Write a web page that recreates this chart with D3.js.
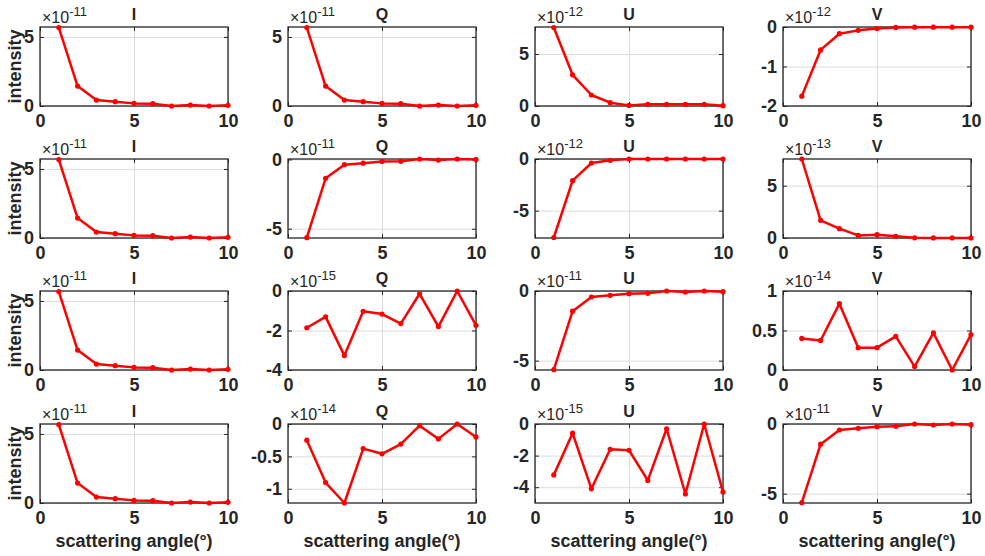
<!DOCTYPE html>
<html lang="en">
<head>
<meta charset="UTF-8">
<script src="https://cdn.jsdelivr.net/npm/d3@7"></script>
<title>Stokes parameters</title>
<style>
  body { margin: 0; background: #fff; }
  svg text { font-family: "Liberation Sans", Arial, sans-serif; font-weight: bold; fill: #262626; }
  .grid line { stroke: #dcdcdc; stroke-width: 1; }
  .grid path { display: none; }
  .ax path { display: none; }
  .ax line { stroke: #262626; }
</style>
</head>
<body>
<div id="chart"></div>
<script>
// scattering angle, degrees
var angles = [1, 2, 3, 4, 5, 6, 7, 8, 9, 10];

// values are mantissas, multiply by 10^exponent
var I1 = [5.68, 1.44, 0.43, 0.31, 0.19, 0.17, 0.0, 0.07, 0.0, 0.05];
var Q1 = [5.68, 1.44, 0.43, 0.31, 0.19, 0.17, 0.0, 0.07, 0.0, 0.05];
var U1 = [7.55, 3.0, 1.06, 0.32, 0.06, 0.16, 0.16, 0.16, 0.16, 0.03];
var V1 = [-1.75, -0.58, -0.17, -0.085, -0.04, -0.01, -0.005, -0.005, -0.005, -0.005];

var I2 = [5.68, 1.44, 0.43, 0.31, 0.19, 0.17, 0.0, 0.07, 0.0, 0.05];
var Q2 = [-5.65, -1.36, -0.38, -0.27, -0.15, -0.14, 0.03, -0.05, 0.03, 0.0];
var U2 = [-7.6, -2.1, -0.39, -0.13, 0.0, 0.0, 0.0, 0.0, 0.0, 0.0];
var V2 = [7.55, 1.69, 0.89, 0.25, 0.32, 0.16, 0.02, 0.01, 0.01, 0.01];

var I3 = [5.68, 1.44, 0.43, 0.31, 0.19, 0.17, 0.0, 0.07, 0.0, 0.05];
var Q3 = [-1.86, -1.31, -3.27, -1.03, -1.17, -1.65, -0.14, -1.8, 0.0, -1.74];
var U3 = [-5.65, -1.45, -0.43, -0.31, -0.19, -0.17, 0.0, -0.07, 0.0, -0.05];
var V3 = [0.40, 0.374, 0.84, 0.283, 0.283, 0.426, 0.043, 0.47, 0.0, 0.448];

var I4 = [5.68, 1.44, 0.43, 0.31, 0.19, 0.17, 0.0, 0.07, 0.0, 0.05];
var Q4 = [-0.25, -0.905, -1.22, -0.38, -0.46, -0.31, -0.026, -0.23, 0.0, -0.2];
var U4 = [-3.22, -0.58, -4.1, -1.6, -1.66, -3.57, -0.3, -4.43, 0.0, -4.3];
var V4 = [-5.65, -1.45, -0.43, -0.31, -0.19, -0.17, 0.0, -0.07, 0.0, -0.05];

var titles = ["I", "Q", "U", "V"];
var series = [[I1, Q1, U1, V1], [I2, Q2, U2, V2], [I3, Q3, U3, V3], [I4, Q4, U4, V4]];
var exponents = [[-11, -11, -12, -12], [-11, -11, -12, -13], [-11, -15, -11, -14], [-11, -14, -15, -11]];
var yLimits = [
  [[0, 5.72], [0, 5.72], [0, 7.6], [-2, 0]],
  [[0, 5.72], [-5.67, 0.03], [-7.65, 0], [0, 7.55]],
  [[0, 5.72], [-4, 0], [-5.67, 0], [0, 1]],
  [[0, 5.72], [-1.22, 0], [-5, 0], [-5.67, 0]]
];
var yTicks = [
  [[0, 5], [0, 5], [0, 5], [-2, -1, 0]],
  [[0, 5], [-5, 0], [-5, 0], [0, 5]],
  [[0, 5], [-4, -2, 0], [-5, 0], [0, 0.5, 1]],
  [[0, 5], [-1, -0.5, 0], [-4, -2, 0], [-5, 0]]
];
var xTicks = [0, 5, 10];

var width = 985, height = 556;
var colLeft = [40, 288, 535, 783];
var rowTop = [27, 159, 291, 424];
var pw = 188, ph = 79;

var svg = d3.select("#chart").append("svg")
  .attr("width", width).attr("height", height);

function drawPanel(r, c) {
  var px = colLeft[c], py = rowTop[r];
  var x = d3.scaleLinear().domain([0, 10]).range([px, px + pw]);
  var y = d3.scaleLinear().domain(yLimits[r][c]).range([py + ph, py]);
  var g = svg.append("g");

  // grid
  g.append("g").attr("class", "grid")
    .attr("transform", "translate(0," + (py + ph) + ")")
    .call(d3.axisBottom(x).tickValues(xTicks).tickSize(-ph).tickFormat(""));
  g.append("g").attr("class", "grid")
    .attr("transform", "translate(" + px + ",0)")
    .call(d3.axisLeft(y).tickValues(yTicks[r][c]).tickSize(-pw).tickFormat(""));

  // box
  g.append("rect")
    .attr("x", px).attr("y", py).attr("width", pw).attr("height", ph)
    .attr("fill", "none").attr("stroke", "#262626").attr("stroke-width", 1.3);

  // inward ticks on all four sides
  var bx = g.append("g").attr("class", "ax")
    .attr("transform", "translate(0," + (py + ph) + ")")
    .call(d3.axisBottom(x).tickValues(xTicks).tickSize(-4).tickPadding(8).tickFormat(String));
  bx.selectAll("text").style("font-size", "18px");
  g.append("g").attr("class", "ax")
    .attr("transform", "translate(0," + py + ")")
    .call(d3.axisTop(x).tickValues(xTicks).tickSize(-4).tickFormat(""));
  var ly = g.append("g").attr("class", "ax")
    .attr("transform", "translate(" + px + ",0)")
    .call(d3.axisLeft(y).tickValues(yTicks[r][c]).tickSize(-4).tickPadding(6).tickFormat(String));
  ly.selectAll("text").style("font-size", "18px");
  g.append("g").attr("class", "ax")
    .attr("transform", "translate(" + (px + pw) + ",0)")
    .call(d3.axisRight(y).tickValues(yTicks[r][c]).tickSize(-4).tickFormat(""));

  // data
  var vals = series[r][c];
  var pts = angles.map(function(a, i) { return [a, vals[i]]; });
  g.append("path").datum(pts)
    .attr("fill", "none").attr("stroke", "#ff0000").attr("stroke-width", 2.5)
    .attr("stroke-linejoin", "round")
    .attr("d", d3.line().x(function(d) { return x(d[0]); }).y(function(d) { return y(d[1]); }));
  g.selectAll("circle").data(pts).enter().append("circle")
    .attr("cx", function(d) { return x(d[0]); })
    .attr("cy", function(d) { return y(d[1]); })
    .attr("r", 2.6).attr("fill", "#ff0000");

  // title
  g.append("text").attr("x", px + pw / 2).attr("y", py - 7)
    .attr("text-anchor", "middle").style("font-size", "16px").text(titles[c]);

  // exponent
  var ex = g.append("text").attr("x", px + 2).attr("y", py - 4)
    .style("font-size", "16px").style("font-weight", "normal");
  ex.append("tspan").text("\u00d710");
  ex.append("tspan").attr("dy", -7).style("font-size", "13px").text(String(exponents[r][c]));

  if (c === 0) {
    svg.append("text")
      .attr("transform", "translate(21," + (py + ph / 2) + ") rotate(-90)")
      .attr("text-anchor", "middle").style("font-size", "18px").text("intensity");
  }
  if (r === 3) {
    svg.append("text").attr("x", px + pw / 2).attr("y", 547)
      .attr("text-anchor", "middle").style("font-size", "18px").text("scattering angle(\u00b0)");
  }
}

for (var r = 0; r < 4; r++) {
  for (var c = 0; c < 4; c++) {
    drawPanel(r, c);
  }
}
</script>
</body>
</html>
